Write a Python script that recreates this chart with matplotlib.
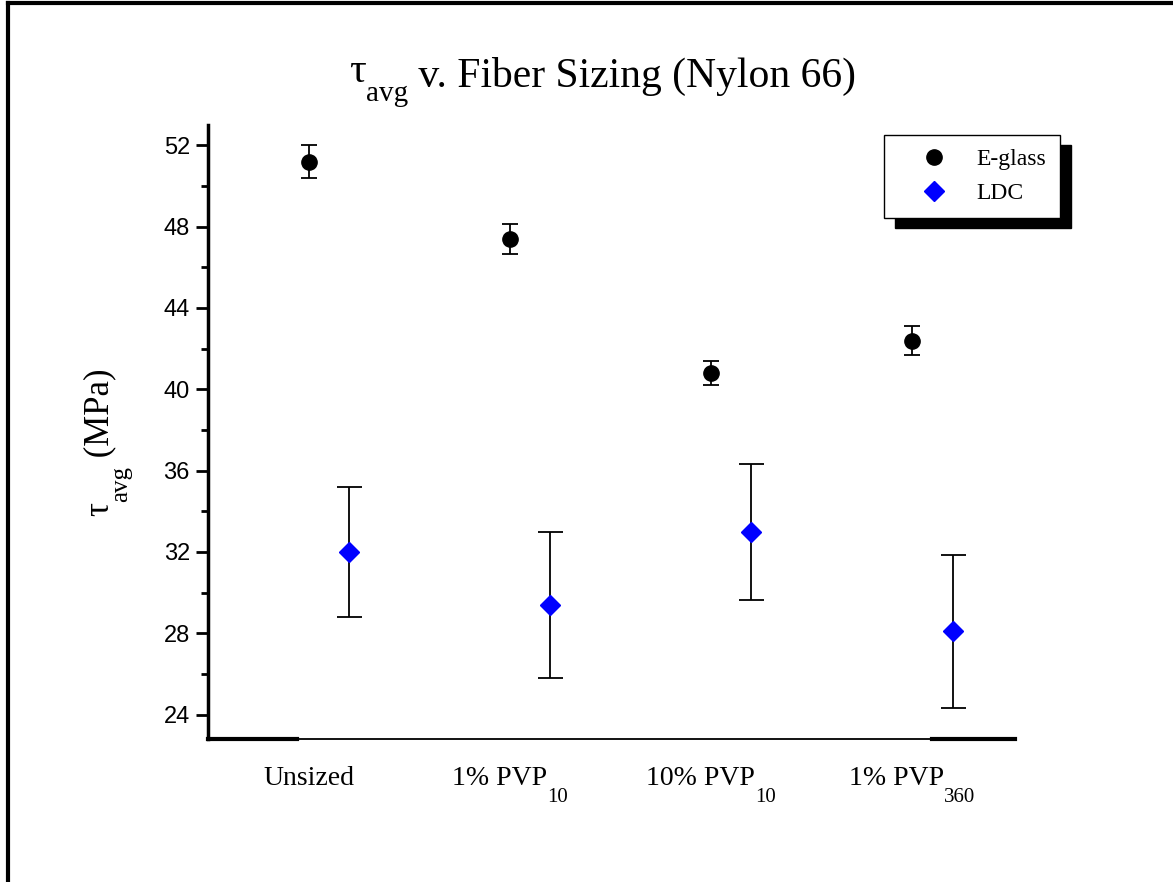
import matplotlib
matplotlib.use("Agg")
import matplotlib.pyplot as plt
import numpy as np
from matplotlib.lines import Line2D
from matplotlib.ticker import MultipleLocator
from matplotlib.transforms import offset_copy, blended_transform_factory

SERIF = 'Liberation Serif'

# data
categories = ['Unsized', '1% PVP', '10% PVP', '1% PVP']
category_subs = ['', '10', '10', '360']
eglass_mean = [51.2, 47.4, 40.8, 42.4]
eglass_err = [0.8, 0.73, 0.6, 0.73]
ldc_mean = [32.0, 29.4, 33.0, 28.1]
ldc_err = [3.2, 3.6, 3.35, 3.75]

x = np.arange(1, len(categories) + 1)

fig = plt.figure(figsize=(11.73, 8.82), dpi=100)
ax = fig.add_axes([0.1773, 0.1621, 0.688, 0.6962])
renderer = fig.canvas.get_renderer()


def draw_pieces(px, py, pieces, transform, rotation=0):
    # pieces: (text, fontsize, drop in px); drawn side by side, centred on (px, py)
    widths = []
    for s, size, _ in pieces:
        t = fig.text(0, 0, s, fontsize=size, family=SERIF)
        widths.append(t.get_window_extent(renderer).width)
        t.remove()
    pos = -sum(widths) / 2
    for (s, size, drop), w in zip(pieces, widths):
        if rotation == 90:
            dx, dy = drop, pos
        else:
            dx, dy = pos, -drop
        tr = offset_copy(transform, fig=fig, x=dx, y=dy, units='dots')
        fig.text(px, py, s, transform=tr, fontsize=size, family=SERIF, rotation=rotation,
                 rotation_mode='anchor', ha='left', va='baseline', clip_on=False)
        pos += w


ax.errorbar(x, eglass_mean, yerr=eglass_err, fmt='o', color='black', ms=11,
            ecolor='black', elinewidth=1.3, capsize=6, capthick=1.3)
ax.errorbar(x + 0.2, ldc_mean, yerr=ldc_err, fmt='D', color='blue', ms=10.5,
            ecolor='black', elinewidth=1.3, capsize=9, capthick=1.3)

ax.set_xlim(0.5, 4.51)
ax.set_ylim(22.8, 53)
ax.yaxis.set_major_locator(MultipleLocator(4))
ax.yaxis.set_minor_locator(MultipleLocator(2))
ax.set_xticks([])
ax.tick_params(axis='y', which='major', length=9, width=2, labelsize=17, pad=4)
ax.tick_params(axis='y', which='minor', length=5, width=2)
for lbl in ax.get_yticklabels():
    lbl.set_fontfamily('Liberation Sans')

for side in ['top', 'right']:
    ax.spines[side].set_visible(False)
ax.spines['left'].set_linewidth(2.5)
ax.spines['bottom'].set_linewidth(1.3)
# thicker pieces at the ends of the bottom axis
for seg in ([0, 0.11], [0.897, 1.0]):
    ax.plot(seg, [0, 0], color='black', lw=3, transform=ax.transAxes, clip_on=False)

# category labels with dropped subscripts
xtr = blended_transform_factory(ax.transData, ax.transAxes)
for xi, name, sub in zip(x, categories, category_subs):
    parts = [(name, 20, 0)]
    if sub:
        parts.append((sub, 15, 17))
    draw_pieces(xi, -0.075, parts, xtr)

# y label and title
draw_pieces(0.0920, 0.499, [('τ', 25, 0), ('avg', 18, 19), (' (MPa)', 25, 0)],
            fig.transFigure, rotation=90)
draw_pieces(0.514, 0.901, [('τ', 30, -5), ('avg', 21, 14), (' v. Fiber Sizing (Nylon 66)', 30, 0)],
            fig.transFigure)

handles = [Line2D([], [], marker='o', color='black', ls='none', ms=11),
           Line2D([], [], marker='D', color='blue', ls='none', ms=10)]
leg = ax.legend(handles, ['E-glass', 'LDC'], loc='upper right', bbox_to_anchor=(1.056, 0.984),
                borderaxespad=0, frameon=True, fancybox=False, edgecolor='black', framealpha=1,
                prop={'family': SERIF, 'size': 17},
                handletextpad=0.25, borderpad=0.6, labelspacing=0.5, handlelength=3.05,
                shadow={'ox': 7.5, 'oy': -7.5, 'facecolor': 'black', 'edgecolor': 'black', 'alpha': 1})
leg.get_frame().set_linewidth(1)

# outer frame of the picture
fig.add_artist(Line2D([0.0068, 1.0], [0.9966, 0.9966], color='black', lw=3, transform=fig.transFigure))
fig.add_artist(Line2D([0.0068, 0.0068], [0.0, 0.9966], color='black', lw=3, transform=fig.transFigure))

fig.savefig('out.png', dpi=100)
